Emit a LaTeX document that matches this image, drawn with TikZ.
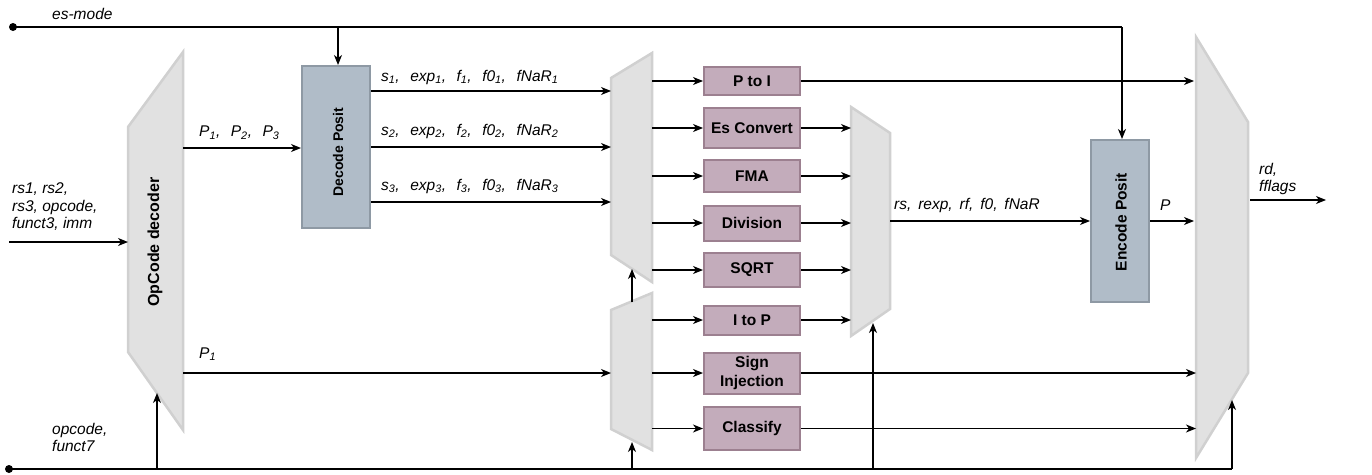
\documentclass[tikz,border=0pt]{standalone}
\usepackage{fontspec}
\setmainfont{Liberation Sans}
\usetikzlibrary{arrows.meta}
\definecolor{muxfill}{HTML}{E1E1E1}
\definecolor{muxline}{HTML}{D0D0D0}
\definecolor{unitfill}{HTML}{C3ACBB}
\definecolor{unitline}{HTML}{9C8090}
\definecolor{codecfill}{HTML}{B0BCC8}
\definecolor{codecline}{HTML}{8E99A4}
\tikzset{
  wire/.style={line width=1.3pt, draw=black},
  sig/.style={wire, -{Stealth[length=10pt,width=8pt,inset=3pt]}},
  mux/.style={fill=muxfill, draw=muxline, line width=2.5pt, line join=miter},
  unit/.style={rectangle, fill=unitfill, draw=unitline, line width=2pt,
    minimum width=96pt, inner sep=0pt, align=center,
    font=\fontsize{15.5}{17}\selectfont\bfseries},
  codec/.style={rectangle, fill=codecfill, draw=codecline, line width=2pt,
    inner sep=0pt, font=\fontsize{15}{17}\selectfont\bfseries},
  lbl/.style={inner sep=0pt, anchor=west, align=left,
    font=\fontsize{15.5}{17.5}\selectfont\itshape},
  dot/.style={circle, fill=black, inner sep=0pt, minimum size=8pt},
}
\newcommand{\subs}[1]{\textsubscript{#1}}
\newcommand{\sep}{,\hspace{10.5pt}}
\begin{document}
\begin{tikzpicture}[x=1pt, y=-1pt]
\useasboundingbox (0,0) rectangle (1372,474);

% multiplexer / decoder outlines
\path[mux] (128,127) -- (183,52) -- (183,430) -- (128,352) -- cycle;
\node[rotate=90, inner sep=0pt, font=\fontsize{16}{18}\selectfont\bfseries] (opc) at (155,242) {OpCode decoder};
\path[mux] (611,78) -- (652,53) -- (652,282) -- (611,255) -- cycle;
\path[mux] (611,310) -- (652,293) -- (652,450) -- (611,429) -- cycle;
\path[mux] (851,107) -- (890,133) -- (890,309) -- (851,336) -- cycle;
\path[mux] (1196,37) -- (1248,122) -- (1248,373) -- (1196,458) -- cycle;

% port coordinates
\coordinate (opcR) at (183,0);
\coordinate (muxAL) at (611,0);
\coordinate (muxAR) at (652,0);
\coordinate (muxBL) at (611,0);
\coordinate (muxBR) at (652,0);
\coordinate (muxCL) at (851,0);
\coordinate (muxCR) at (890,0);
\coordinate (muxDL) at (1196,0);
\coordinate (muxDR) at (1250,0);

% codec blocks
\node[codec, minimum width=68pt, minimum height=162pt] (dec) at (336,147) {};
\node[rotate=90, inner sep=0pt, font=\fontsize{14}{17}\selectfont\bfseries] at (338,152) {Decode Posit};
\node[codec, minimum width=58pt, minimum height=162pt] (enc) at (1120,221) {};
\node[rotate=90, inner sep=0pt, font=\fontsize{15.5}{17}\selectfont\bfseries] at (1121,222) {Encode Posit};

% arithmetic units
\node[unit, minimum height=28pt] (p2i) at (752,81) {P to I};
\node[unit, minimum height=40pt] (esc) at (752,128) {Es Convert};
\node[unit, minimum height=32pt] (fma) at (752,176) {FMA};
\node[unit, minimum height=35pt] (div) at (752,223) {Division};
\node[unit, minimum height=34pt] (sqrt) at (752,270) {SQRT};
\node[unit, minimum height=29pt] (i2p) at (752,320) {I to P};
\node[unit, minimum height=41pt, font=\fontsize{15.5}{19}\selectfont\bfseries] (sgn) at (752,373) {Sign\\Injection};
\node[unit, minimum height=43pt] (cls) at (752,428.5) {Classify};

% es-mode distribution
\node[dot] (esdot) at (13,27) {};
\coordinate (esA) at (338,27);
\coordinate (esB) at (1122,27);
\draw[wire] (esdot.center) -- (esB);
\draw[sig] (esA) -- (esA |- dec.north);
\draw[sig] (esB) -- (esB |- enc.north);
\node[lbl] (esl) at (52,14) {es-mode};

% opcode / funct7 distribution
\node[dot] (opdot) at (9,469) {};
\coordinate (opA) at (157,469);
\coordinate (opB) at (632,469);
\coordinate (opC) at (873,469);
\coordinate (opD) at (1232,469);
\draw[wire] (opdot.center) -- (opD);
\draw[sig] (opA) -- (157,393);
\draw[sig] (opB) -- (632,442);
\draw[sig] (opC) -- (873,323);
\draw[sig] (opD) -- (1232,400);
\node[lbl] at (52,437) {opcode,\\[-0.5pt]funct7};

% instruction input
\coordinate (inL) at (9,242);
\draw[sig] (inL) -- (128,242);
\node[lbl] at (12,207) {rs1, rs2,\\rs3, opcode,\\funct3, imm};

% decoder outputs
\draw[sig] (opcR |- 0,148) -- (dec.west |- 0,148);
\node[lbl] at (199,133) {P\subs{1}\sep P\subs{2}\sep P\subs{3}};
\draw[sig] (opcR |- 0,373) -- (muxBL |- 0,373);
\node[lbl] at (199,354) {P\subs{1}};

% decoded operands into the operand mux
\draw[sig] (dec.east |- 0,91) -- (muxAL |- 0,91);
\draw[sig] (dec.east |- 0,147) -- (muxAL |- 0,147);
\draw[sig] (dec.east |- 0,202) -- (muxAL |- 0,202);
\node[lbl] at (381,77) {s\subs{1}\sep exp\subs{1}\sep f\subs{1}\sep f0\subs{1}\sep fNaR\subs{1}};
\node[lbl] at (381,131) {s\subs{2}\sep exp\subs{2}\sep f\subs{2}\sep f0\subs{2}\sep fNaR\subs{2}};
\node[lbl] at (381,186) {s\subs{3}\sep exp\subs{3}\sep f\subs{3}\sep f0\subs{3}\sep fNaR\subs{3}};

% lower mux feeds the upper mux
\draw[sig] (632,302) -- (632,269);

% mux outputs into units
\foreach \u in {p2i,esc,fma,div,sqrt}
  \draw[sig] (muxAR |- \u.west) -- (\u.west);
\foreach \u in {i2p,sgn,cls}
  \draw[sig] (muxBR |- \u.west) -- (\u.west);

% unit results into the result mux
\foreach \u in {esc,fma,div,sqrt,i2p}
  \draw[sig] (\u.east) -- (muxCL |- \u.east);

% direct results into the output mux
\draw[sig] (p2i.east) -- (1194,81);
\draw[sig] (sgn.east) -- (muxDL |- sgn.east);
\draw[sig] (cls.east) -- (muxDL |- cls.east);

% encode path
\draw[sig] (muxCR |- 0,221) -- (enc.west |- 0,221);
\node[lbl] at (894,205) {rs, \,rexp, \,rf, \,f0, \,fNaR};
\draw[sig] (enc.east |- 0,221) -- (1194,221);
\node[lbl] at (1160,205) {P};

% final output
\coordinate (outR) at (1326,200);
\draw[sig] (muxDR |- outR) -- (outR);
\node[lbl] at (1259,179) {rd,\\fflags};
\end{tikzpicture}
\end{document}
